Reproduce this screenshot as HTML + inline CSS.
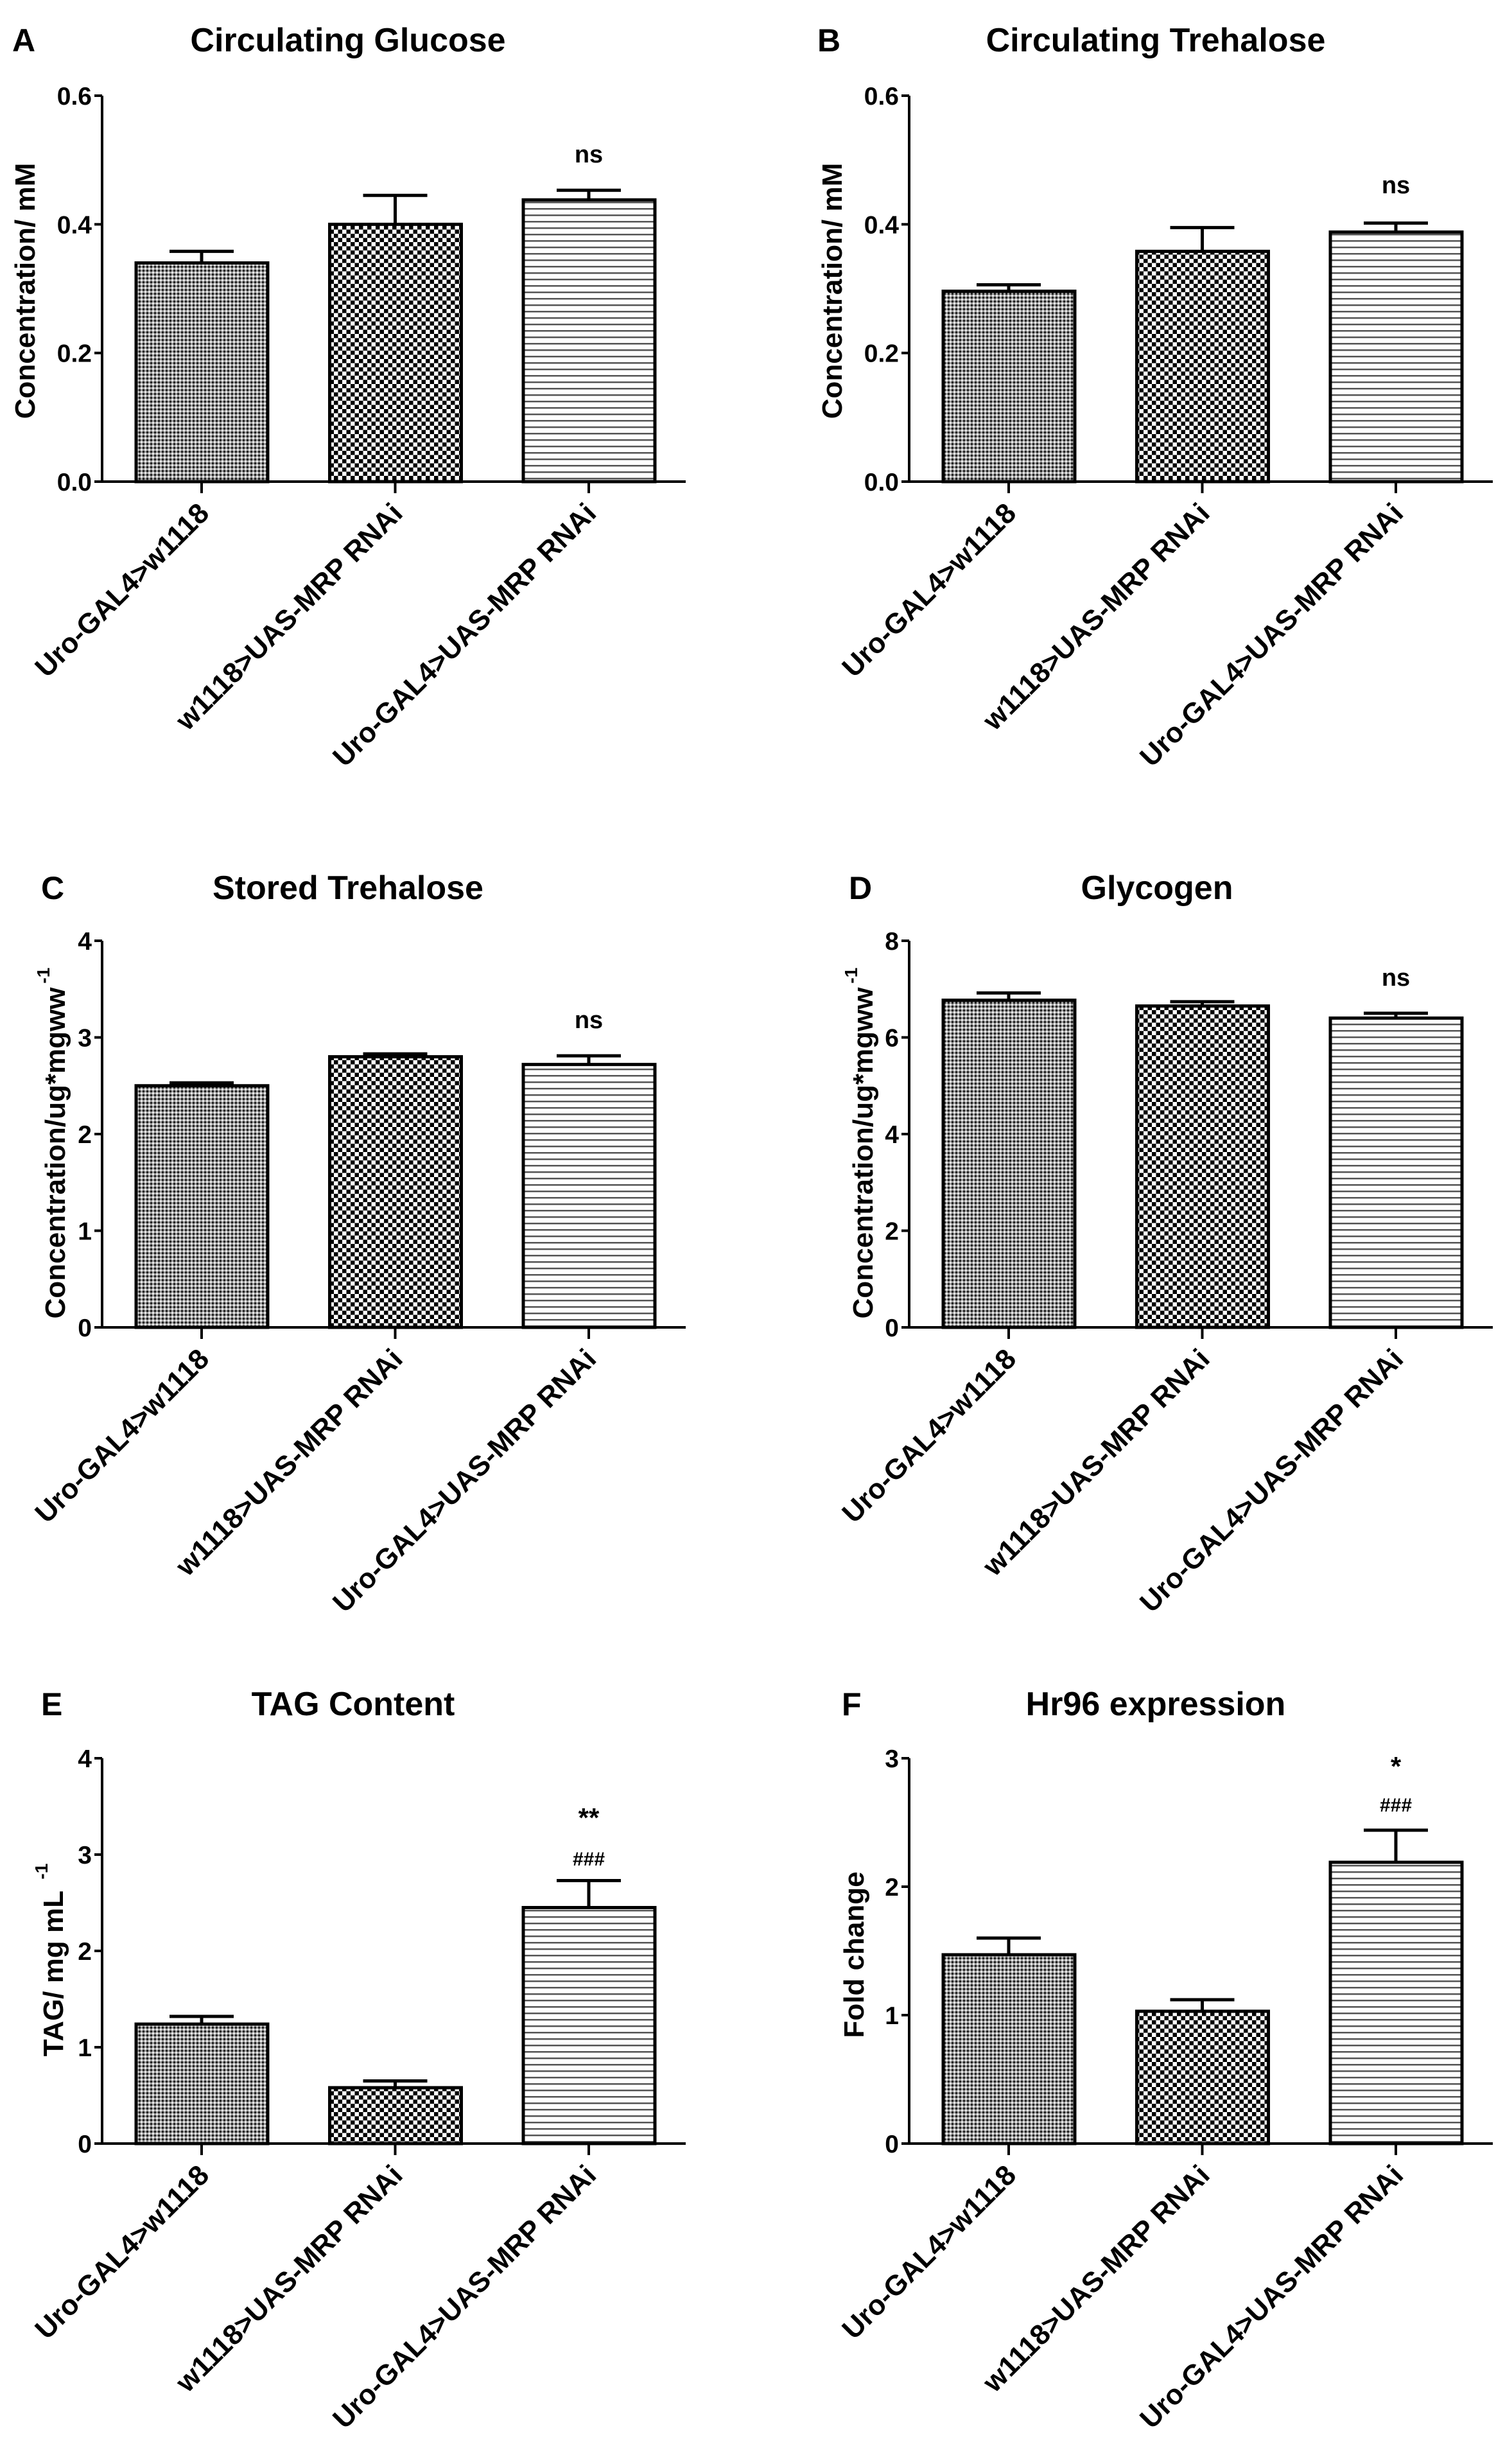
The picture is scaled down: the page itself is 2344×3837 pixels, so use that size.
<!DOCTYPE html>
<html><head><meta charset="utf-8"><style>
html,body{margin:0;padding:0;background:#fff;}
svg{display:block;font-family:"Liberation Sans",Arial,sans-serif;font-weight:bold;}
</style></head><body>
<svg id="fig" width="2344" height="3837" viewBox="0 0 2344 3837" xmlns="http://www.w3.org/2000/svg">
<defs>
<pattern id="pFine" width="6" height="6" patternUnits="userSpaceOnUse">
<rect width="6" height="6" fill="#9a9a9a"/><rect width="3" height="3" fill="#222"/><rect x="3" y="3" width="3" height="3" fill="#e8e8e8"/>
</pattern>
<pattern id="pCheck" width="13" height="13" patternUnits="userSpaceOnUse">
<rect width="13" height="13" fill="#fff"/><rect width="6.5" height="6.5" fill="#000"/><rect x="6.5" y="6.5" width="6.5" height="6.5" fill="#000"/>
</pattern>
<pattern id="pLines" width="10" height="10" patternUnits="userSpaceOnUse">
<rect width="10" height="10" fill="#fff"/><rect y="4" width="10" height="2.5" fill="#555"/>
</pattern>
</defs>
</svg>
<script>
const categories = ["Uro-GAL4>w1118", "w1118>UAS-MRP RNAi", "Uro-GAL4>UAS-MRP RNAi"];
const glucoseMeans = [0.340, 0.400, 0.438];
const glucoseErr = [0.018, 0.045, 0.015];
const glucoseTicks = ["0.0", "0.2", "0.4", "0.6"];
const trehaloseMeans = [0.296, 0.358, 0.388];
const trehaloseErr = [0.010, 0.037, 0.014];
const trehaloseTicks = ["0.0", "0.2", "0.4", "0.6"];
const storedMeans = [2.50, 2.80, 2.72];
const storedErr = [0.03, 0.03, 0.09];
const storedTicks = ["0", "1", "2", "3", "4"];
const glycogenMeans = [6.77, 6.65, 6.40];
const glycogenErr = [0.15, 0.09, 0.10];
const glycogenTicks = ["0", "2", "4", "6", "8"];
const tagMeans = [1.24, 0.58, 2.45];
const tagErr = [0.08, 0.07, 0.28];
const tagTicks = ["0", "1", "2", "3", "4"];
const hr96Means = [1.47, 1.03, 2.19];
const hr96Err = [0.13, 0.09, 0.25];
const hr96Ticks = ["0", "1", "2", "3"];

const NS = "http://www.w3.org/2000/svg";
const svg = document.getElementById("fig");
const fills = ["url(#pFine)", "url(#pCheck)", "url(#pLines)"];
function mk(tag, attrs, parent, text) {
  const e = document.createElementNS(NS, tag);
  for (const k in attrs) e.setAttribute(k, attrs[k]);
  if (text !== undefined) e.textContent = text;
  (parent || svg).appendChild(e);
  return e;
}
function panel(cfg) {
  const g = mk("g", {});
  
  
  const ax = cfg.ax, top = cfg.top, zero = cfg.zero, xEnd = ax + 909;
  const ymax = parseFloat(cfg.ticks[cfg.ticks.length - 1]);
  const y = v => zero - (v / ymax) * (zero - top);
  const xc = i => ax + 155 + 301.5 * i;
  const L = mk("text", {x: cfg.letterX, y: cfg.titleY, "font-size": 50}, g, cfg.letter);
  
  
  const T = mk("text", {x: cfg.titleCx, y: cfg.titleY, "font-size": 52, "text-anchor": "middle"}, g, cfg.title);
  
  
  for (let i = 0; i < 3; i++) {
    const m = cfg.means[i], e = cfg.err[i];
    const b = mk("rect", {x: xc(i) - 102, y: y(m), width: 205, height: zero - y(m), fill: fills[i], stroke: "#000", "stroke-width": 5}, g);
    
    
    const eb = mk("path", {d: `M${xc(i)},${y(m)}V${y(m + e)}M${xc(i) - 50},${y(m + e)}H${xc(i) + 50}`, stroke: "#000", "stroke-width": 5, fill: "none"}, g);
    
    
    mk("line", {x1: xc(i), x2: xc(i), y1: zero, y2: zero + 18, stroke: "#000", "stroke-width": 4}, g);
    const lab = mk("text", {x: 0, y: 0, "font-size": 44, "text-anchor": "end", transform: `translate(${xc(i) + 14},${zero + 52}) rotate(-45)`}, g, categories[i]);
    
    
  }
  const axes = mk("path", {d: `M${ax},${top}V${zero}H${xEnd}`, stroke: "#000", "stroke-width": 4, fill: "none"}, g);
  
  
  cfg.ticks.forEach(t => {
    const v = parseFloat(t);
    mk("line", {x1: ax - 12, x2: ax, y1: y(v), y2: y(v), stroke: "#000", "stroke-width": 4}, g);
    const tl = mk("text", {x: ax - 16, y: y(v) + 14, "font-size": 39, "text-anchor": "end"}, g, t);
    
    
  });
  const yt = mk("text", {x: 0, y: 0, "font-size": cfg.ytSize || 44, "text-anchor": "middle", transform: `translate(${cfg.ytX},${cfg.ytY}) rotate(-90)`}, g, cfg.ytitle);
  if (cfg.ytSup) { mk("tspan", {"font-size": 28, dy: -24, dx: 6}, yt, cfg.ytSup); }
  
  
  cfg.ann.forEach(a => {
    const t = mk("text", {x: xc(2), y: a[1], "font-size": a[2], "text-anchor": "middle"}, g, a[0]);
    
    
  });
}
panel({name: "panel-a", letter: "A", letterX: 19, titleCx: 542, titleY: 80, title: "Circulating Glucose", ax: 159, top: 149, zero: 750, ticks: glucoseTicks, means: glucoseMeans, err: glucoseErr, ytitle: "Concentration/ mM", ytX: 54, ytY: 453, ann: [["ns", 253, 38]]});
panel({name: "panel-b", letter: "B", letterX: 1273, titleCx: 1800, titleY: 80, title: "Circulating Trehalose", ax: 1416, top: 149, zero: 750, ticks: trehaloseTicks, means: trehaloseMeans, err: trehaloseErr, ytitle: "Concentration/ mM", ytX: 1311, ytY: 453, ann: [["ns", 301, 38]]});
panel({name: "panel-c", letter: "C", letterX: 64, titleCx: 542, titleY: 1400, title: "Stored Trehalose", ax: 159, top: 1465, zero: 2067, ticks: storedTicks, means: storedMeans, err: storedErr, ytitle: "Concentration/ug*mgww", ytSup: "-1", ytX: 101, ytY: 1780, ann: [["ns", 1601, 38]]});
panel({name: "panel-d", letter: "D", letterX: 1322, titleCx: 1802, titleY: 1400, title: "Glycogen", ax: 1416, top: 1465, zero: 2067, ticks: glycogenTicks, means: glycogenMeans, err: glycogenErr, ytitle: "Concentration/ug*mgww", ytSup: "-1", ytX: 1359, ytY: 1780, ann: [["ns", 1535, 38]]});
panel({name: "panel-e", letter: "E", letterX: 64, titleCx: 550, titleY: 2671, title: "TAG Content", ax: 159, top: 2738, zero: 3338, ticks: tagTicks, means: tagMeans, err: tagErr, ytitle: "TAG/ mg mL ", ytSup: "-1", ytX: 98, ytY: 3052, ann: [["**", 2845, 42], ["###", 2905, 30]]});
panel({name: "panel-f", letter: "F", letterX: 1311, titleCx: 1800, titleY: 2671, title: "Hr96 expression", ax: 1416, top: 2738, zero: 3338, ticks: hr96Ticks, means: hr96Means, err: hr96Err, ytitle: "Fold change", ytX: 1345, ytY: 3044, ann: [["*", 2765, 42], ["###", 2821, 30]]});
</script>
</body></html>
